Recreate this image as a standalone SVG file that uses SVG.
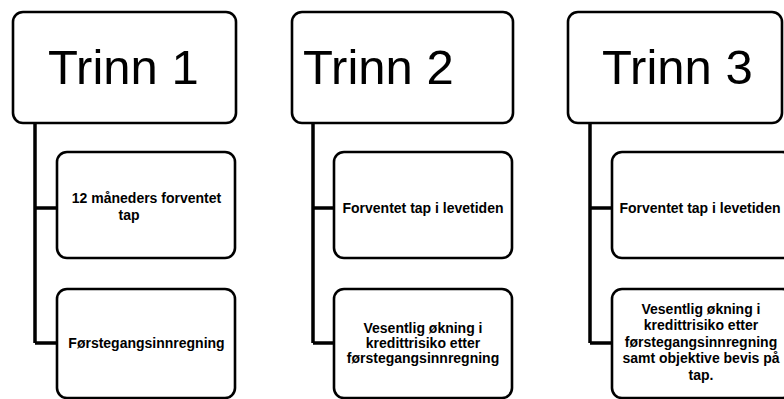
<svg xmlns="http://www.w3.org/2000/svg" width="784" height="399" viewBox="0 0 784 399">
<style>
.box{fill:#fff;stroke:#000;stroke-width:2.6}
.conn{fill:none;stroke:#000;stroke-width:3.5}
.h{font-family:"Liberation Sans",Arial,sans-serif;font-size:49px;fill:#000}
.t{font-family:"Liberation Sans",Arial,sans-serif;font-size:14px;font-weight:bold;fill:#000;text-anchor:middle}
</style>
<rect width="784" height="399" fill="#fff"/>
<g id="connectors">
<path class="conn" d="M35,123 V343 M35,208 H57 M35,343 H57"/>
<path class="conn" d="M313,123 V343 M313,208 H334 M313,343 H334"/>
<path class="conn" d="M590,123 V343 M590,208 H612 M590,343 H612"/>
</g>
<g id="trinn1">
<rect class="box" x="13" y="12" width="223" height="111" rx="10"/>
<text class="h" x="48" y="84">Trinn 1</text>
</g>
<g id="trinn2">
<rect class="box" x="292" y="12" width="221" height="111" rx="10"/>
<text class="h" x="303" y="84">Trinn 2</text>
</g>
<g id="trinn3">
<rect class="box" x="568" y="12" width="214" height="111" rx="10"/>
<text class="h" x="602" y="84">Trinn 3</text>
</g>
<g id="t1a">
<rect class="box" x="57" y="152" width="178" height="106" rx="10"/>
<text class="t" x="146.5" y="203">12 måneders forventet</text>
<text class="t" x="129" y="220">tap</text>
</g>
<g id="t1b">
<rect class="box" x="57" y="289" width="178" height="109" rx="10"/>
<text class="t" x="146.5" y="348">Førstegangsinnregning</text>
</g>
<g id="t2a">
<rect class="box" x="334" y="152" width="178" height="106" rx="10"/>
<text class="t" x="423" y="213">Forventet tap i levetiden</text>
</g>
<g id="t2b">
<rect class="box" x="334" y="289" width="178" height="109" rx="10"/>
<text class="t" x="423" y="333">Vesentlig økning i</text>
<text class="t" x="423" y="348">kredittrisiko etter</text>
<text class="t" x="423" y="363">førstegangsinnregning</text>
</g>
<g id="t3a">
<rect class="box" x="612" y="152" width="180" height="106" rx="10"/>
<text class="t" x="700" y="213">Forventet tap i levetiden</text>
</g>
<g id="t3b">
<rect class="box" x="612" y="289" width="180" height="109" rx="10"/>
<text class="t" x="701" y="314">Vesentlig økning i</text>
<text class="t" x="701" y="330">kredittrisiko etter</text>
<text class="t" x="701" y="347">førstegangsinnregning</text>
<text class="t" x="701" y="363">samt objektive bevis på</text>
<text class="t" x="701" y="380">tap.</text>
</g>
</svg>
